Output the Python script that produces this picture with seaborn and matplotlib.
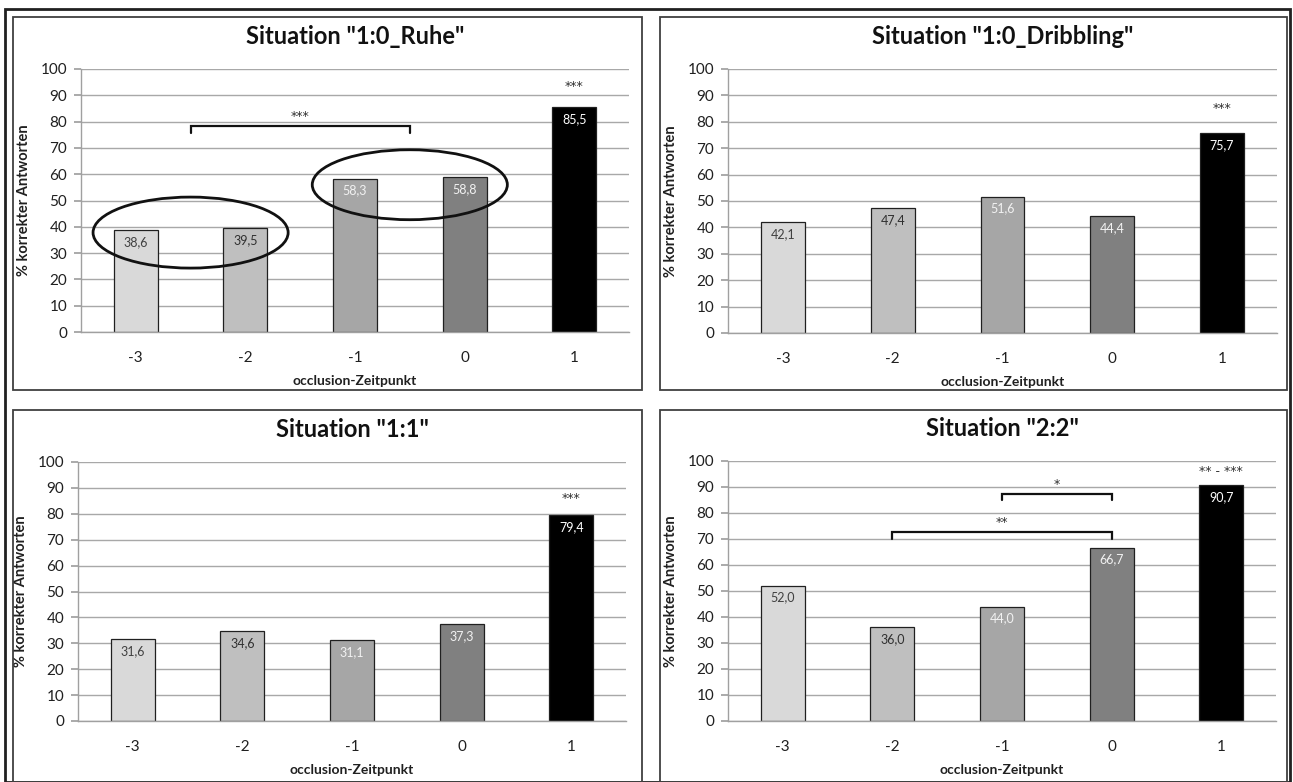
import matplotlib
matplotlib.use("Agg")
import matplotlib.pyplot as plt
from matplotlib.patches import Ellipse, Rectangle
import seaborn as sns
import pandas as pd

sns.set_theme(style="white")
plt.rcParams["font.family"] = ["Lato", "DejaVu Sans"]

# occlusion time points and their bar shades
zeitpunkte = ["-3", "-2", "-1", "0", "1"]
farben = ["#d9d9d9", "#bfbfbf", "#a6a6a6", "#808080", "#000000"]
label_farben = ["#404040", "#303030", "#f2f2f2", "#f2f2f2", "#ffffff"]

# % correct answers per situation
titel = ['Situation "1:0_Ruhe"', 'Situation "1:0_Dribbling"',
         'Situation "1:1"', 'Situation "2:2"']
ruhe = [38.6, 39.5, 58.3, 58.8, 85.5]
dribbling = [42.1, 47.4, 51.6, 44.4, 75.7]
eins_eins = [31.6, 34.6, 31.1, 37.3, 79.4]
zwei_zwei = [52.0, 36.0, 44.0, 66.7, 90.7]
werte = [ruhe, dribbling, eins_eins, zwei_zwei]

# significance marks above the last bar
stern_oben = ["***", "***", "***", "** - ***"]
stern_y = [93.5, 85.0, 86.0, 96.0]
STERN_FONT = ["DejaVu Sans"]

W, H = 1293, 782
fig = plt.figure(figsize=(W / 100, H / 100), dpi=100)

def fx(px):
    return px / W

def fy(py):
    return 1 - py / H

# axes boxes in pixel coordinates: left, right, top(100), bottom(0)
achsen_px = [(81, 629, 69, 332), (728, 1277, 69, 333),
             (78, 626, 462, 721), (728, 1276, 461, 721)]
# panel frames: left, top, right, bottom
rahmen_px = [(13, 17, 642, 390), (660, 17, 1287, 390),
             (13, 410, 642, 782), (660, 410, 1287, 782)]

# outer frame of the whole figure
fig.patches.append(Rectangle((fx(5), 0), fx(1290) - fx(5), fy(9),
                             transform=fig.transFigure, fill=False,
                             edgecolor="#202020", linewidth=2.0))
for (l, t, r, b) in rahmen_px:
    fig.patches.append(Rectangle((fx(l), fy(b)), fx(r) - fx(l), fy(t) - fy(b),
                                 transform=fig.transFigure, fill=False,
                                 edgecolor="#404040", linewidth=1.3))

achsen = []
for i, (l, r, t, b) in enumerate(achsen_px):
    ax = fig.add_axes([fx(l), fy(b), fx(r) - fx(l), fy(t) - fy(b)])
    df = pd.DataFrame({"Zeitpunkt": zeitpunkte, "Wert": werte[i]})
    sns.barplot(data=df, x="Zeitpunkt", y="Wert", hue="Zeitpunkt",
                palette=farben, order=zeitpunkte, hue_order=zeitpunkte,
                width=0.4, edgecolor="#202020", linewidth=0.9,
                legend=False, ax=ax)
    ax.set_ylim(0, 100)
    ax.set_xlim(-0.5, 4.5)
    ax.set_yticks(range(0, 101, 10))
    ax.yaxis.grid(True, color="#a8a8a8", linewidth=1.0)
    ax.set_axisbelow(True)
    for s in ["top", "right"]:
        ax.spines[s].set_visible(False)
    for s in ["left", "bottom"]:
        ax.spines[s].set_color("#a0a0a0")
        ax.spines[s].set_linewidth(1.0)
    ax.tick_params(axis="y", left=True, length=5, color="#a0a0a0",
                   labelsize=11, pad=5, labelcolor="#202020")
    ax.tick_params(axis="x", bottom=False, labelsize=11, pad=8,
                   labelcolor="#202020")
    ax.set_xlabel("occlusion-Zeitpunkt", fontsize=10, fontweight="bold",
                  labelpad=7, color="#202020")
    ax.set_ylabel("% korrekter Antworten", fontsize=10.5, fontweight="bold",
                  labelpad=7, color="#202020")
    for j, v in enumerate(werte[i]):
        ax.text(j, v - 4.5, f"{v:.1f}".replace(".", ","), ha="center",
                va="center", fontsize=9, color=label_farben[j])
    ax.text(4, stern_y[i], stern_oben[i], ha="center", va="center",
            fontsize=9, color="#303030", family=STERN_FONT)
    ax.set_title(titel[i], fontsize=17, fontweight="bold", pad=18,
                 color="#111111")
    achsen.append(ax)

def klammer(ax, x0, x1, y_oben, y_unten, text, y_text):
    ax.plot([x0, x0, x1, x1], [y_unten, y_oben, y_oben, y_unten],
            color="#111111", linewidth=1.6, solid_joinstyle="miter")
    ax.text((x0 + x1) / 2, y_text, text, ha="center", va="center",
            fontsize=9, color="#303030", family=STERN_FONT)

# 1:0_Ruhe: grouped comparison with circled pairs
ax = achsen[0]
klammer(ax, 0.5, 2.5, 78.3, 75.5, "***", 81.8)
ax.add_patch(Ellipse((0.5, 37.8), 1.78, 27, fill=False,
                     edgecolor="#111111", linewidth=2.0, zorder=5))
ax.add_patch(Ellipse((2.5, 56.0), 1.78, 26.6, fill=False,
                     edgecolor="#111111", linewidth=2.0, zorder=5))

# 2:2: pairwise comparisons against time point 0
ax = achsen[3]
klammer(ax, 2, 3, 87.3, 85.0, "*", 91.0)
klammer(ax, 1, 3, 72.7, 70.0, "**", 76.5)

fig.savefig("out.png", dpi=100)
